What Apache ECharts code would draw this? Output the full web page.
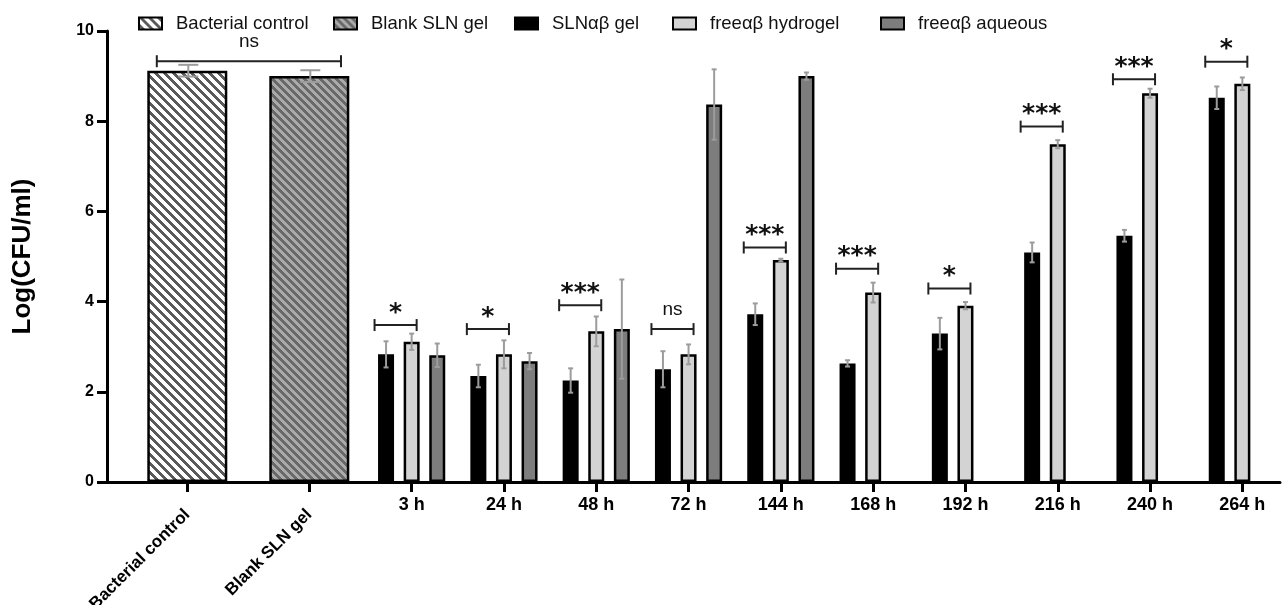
<!DOCTYPE html>
<html>
<head>
<meta charset="utf-8">
<script src="https://cdn.jsdelivr.net/npm/echarts@6/dist/echarts.min.js"></script>
<style>
html,body{margin:0;padding:0;background:#fff;}
#chart{width:1283px;height:605px;}
</style>
</head>
<body>
<div id="chart"></div>
<script>
// ---------------- data ----------------
const controlCategories = ['Bacterial control', 'Blank SLN gel'];
const controlMeans = [9.12, 9.00];
const controlErr = [0.13, 0.13];

const timeLabels = ['3 h', '24 h', '48 h', '72 h', '144 h', '168 h', '192 h', '216 h', '240 h', '264 h'];
const slnGel      = [2.83, 2.35, 2.25, 2.50, 3.72, 2.63, 3.29, 5.09, 5.46, 8.52];
const slnGelErr   = [0.29, 0.25, 0.27, 0.40, 0.24, 0.07, 0.35, 0.22, 0.13, 0.25];
const hydrogel    = [3.11, 2.83, 3.34, 2.83, 4.92, 4.20, 3.91, 7.49, 8.62, 8.83];
const hydrogelErr = [0.18, 0.31, 0.33, 0.22, 0.03, 0.22, 0.08, 0.09, 0.10, 0.14];
const aqueous     = [2.81, 2.68, 3.39, 8.37, 9.00, null, null, null, null, null];
const aqueousErr  = [0.26, 0.18, 1.10, 0.78, 0.08, null, null, null, null, null];

const yTicks = [0, 2, 4, 6, 8, 10];

// significance brackets (time groups): height of bracket and label
const sigHeights = [3.48, 3.39, 3.92, 3.39, 5.20, 4.73, 4.29, 7.88, 8.93, 9.32];
const sigLabels  = ['*', '*', '***', 'ns', '***', '***', '*', '***', '***', '*'];
const controlSigHeight = 9.33;
const controlSigLabel = 'ns';

const seriesNames = ['Bacterial control', 'Blank SLN gel', 'SLN\u03b1\u03b2 gel', 'free\u03b1\u03b2 hydrogel', 'free\u03b1\u03b2 aqueous'];

// ---------------- styling helpers ----------------
const FF = 'Liberation Sans, Arial, Helvetica, sans-serif';
const BAR_W = 16, BAR_GAP = 0.6;
const STEP = BAR_W * (1 + BAR_GAP);
const ERR_COLOR = '#9c9c9c';
const LEGEND_LEFT = [133, 328, 509, 667, 875];

function hatch(bg, fg, period, stripe) {
  const c = document.createElement('canvas');
  c.width = period; c.height = period;
  const ctx = c.getContext('2d');
  const img = ctx.createImageData(period, period);
  for (let y = 0; y < period; y++) {
    for (let x = 0; x < period; x++) {
      const d = (((x - y) % period) + period) % period;
      const col = d < stripe ? fg : bg;
      const i = (y * period + x) * 4;
      img.data[i] = col[0]; img.data[i + 1] = col[1]; img.data[i + 2] = col[2]; img.data[i + 3] = 255;
    }
  }
  ctx.putImageData(img, 0, 0);
  return c;
}
const patControl = { image: hatch([255, 255, 255], [90, 90, 90], 9, 4), repeat: 'repeat' };
const patBlank = { image: hatch([170, 170, 170], [105, 105, 105], 8, 4), repeat: 'repeat' };

function errRenderer(offset, cap) {
  return function (params, api) {
    const c = api.value(0), m = api.value(1), e = api.value(2);
    const x = api.coord([c, m])[0] + offset;
    const yt = api.coord([c, m + e])[1];
    const yb = api.coord([c, m - e])[1];
    const st = { stroke: ERR_COLOR, lineWidth: 2, fill: null };
    return {
      type: 'group',
      children: [
        { type: 'line', shape: { x1: x, y1: yt, x2: x, y2: yb }, style: st },
        { type: 'line', shape: { x1: x - cap / 2, y1: yt, x2: x + cap / 2, y2: yt }, style: st },
        { type: 'line', shape: { x1: x - cap / 2, y1: yb, x2: x + cap / 2, y2: yb }, style: st }
      ]
    };
  };
}

function bracketShape(x1, x2, y, label) {
  const st = { stroke: '#222', lineWidth: 2, fill: null };
  const isStar = label.indexOf('*') >= 0;
  return {
    type: 'group',
    children: [
      { type: 'line', shape: { x1: x1, y1: y, x2: x2, y2: y }, style: st },
      { type: 'line', shape: { x1: x1, y1: y - 6, x2: x1, y2: y + 6 }, style: st },
      { type: 'line', shape: { x1: x2, y1: y - 6, x2: x2, y2: y + 6 }, style: st },
      {
        type: 'text',
        style: {
          x: (x1 + x2) / 2,
          y: isStar ? y - 12 : y - 19,
          text: label,
          fill: '#111',
          font: isStar ? 'bold 25px DejaVu Sans, sans-serif' : '19px ' + FF,
          textAlign: 'center',
          textVerticalAlign: 'middle'
        }
      }
    ]
  };
}

function errData(means, errs) {
  const out = [];
  means.forEach((m, i) => { if (m != null) out.push([i, m, errs[i]]); });
  return out;
}

const axisLabelBase = { color: '#000', fontFamily: FF, fontWeight: 'bold', fontSize: 18 };

const option = {
  animation: false,
  backgroundColor: '#fff',
  legend: seriesNames.map((n, i) => ({
    data: [n],
    left: LEGEND_LEFT[i], top: 9,
    icon: 'rect',
    itemWidth: 23, itemHeight: 12,
    selectedMode: false,
    textStyle: { fontFamily: FF, fontSize: 18.5, color: '#111', padding: [0, 0, 0, 9] }
  })),
  grid: [
    { left: 126.3, width: 244, top: 31, bottom: 123, outerBoundsMode: 'none', containLabel: false },
    { left: 365.5, width: 923, top: 31, bottom: 123, outerBoundsMode: 'none', containLabel: false },
    { left: 107, right: 3, top: 31, bottom: 123, outerBoundsMode: 'none', containLabel: false }
  ],
  xAxis: [
    {
      type: 'category', gridIndex: 0, data: controlCategories,
      axisLine: { show: false },
      axisTick: { show: true, alignWithLabel: true, length: 10, lineStyle: { color: '#000', width: 3 } },
      axisLabel: Object.assign({}, axisLabelBase, { fontSize: 17, rotate: 45, interval: 0, margin: 30 })
    },
    {
      type: 'category', gridIndex: 1, data: timeLabels,
      axisLine: { show: false },
      axisTick: { show: true, alignWithLabel: true, length: 10, lineStyle: { color: '#000', width: 3 } },
      axisLabel: Object.assign({}, axisLabelBase, { interval: 0, margin: 14 })
    },
    {
      type: 'value', gridIndex: 2, min: 0, max: 1,
      axisLine: { show: true, lineStyle: { color: '#000', width: 3 } },
      axisTick: { show: false }, axisLabel: { show: false }, splitLine: { show: false }
    }
  ],
  yAxis: [
    {
      type: 'value', gridIndex: 0, min: yTicks[0], max: yTicks[yTicks.length - 1], interval: 2,
      offset: 19.3,
      name: 'Log(CFU/ml)', nameLocation: 'middle', nameGap: 71,
      nameTextStyle: { fontFamily: FF, fontWeight: 'bold', fontSize: 26, color: '#000' },
      axisLine: { show: true, lineStyle: { color: '#000', width: 3 } },
      axisTick: { show: true, length: 10, lineStyle: { color: '#000', width: 3 } },
      axisLabel: Object.assign({}, axisLabelBase, { fontSize: 16, margin: 13 }),
      splitLine: { show: false }
    },
    { type: 'value', gridIndex: 1, min: 0, max: 10, show: false },
    { type: 'value', gridIndex: 2, min: 0, max: 10, show: false }
  ],
  series: [
    {
      name: seriesNames[0], type: 'bar', xAxisIndex: 0, yAxisIndex: 0,
      data: [controlMeans[0], '-'], barWidth: 80, barGap: '-100%',
      itemStyle: { color: patControl, borderColor: '#000', borderWidth: 2.5 }
    },
    {
      name: seriesNames[1], type: 'bar', xAxisIndex: 0, yAxisIndex: 0,
      data: ['-', controlMeans[1]], barWidth: 80, barGap: '-100%',
      itemStyle: { color: patBlank, borderColor: '#000', borderWidth: 2.5 }
    },
    {
      name: seriesNames[2], type: 'bar', xAxisIndex: 1, yAxisIndex: 1,
      data: slnGel, barWidth: BAR_W, barGap: (BAR_GAP * 100) + '%',
      itemStyle: { color: '#000', borderColor: '#000', borderWidth: 2 }
    },
    {
      name: seriesNames[3], type: 'bar', xAxisIndex: 1, yAxisIndex: 1,
      data: hydrogel, barWidth: BAR_W, barGap: (BAR_GAP * 100) + '%',
      itemStyle: { color: '#d3d3d3', borderColor: '#000', borderWidth: 2.5 }
    },
    {
      name: seriesNames[4], type: 'bar', xAxisIndex: 1, yAxisIndex: 1,
      data: aqueous.map(v => v == null ? '-' : v), barWidth: BAR_W, barGap: (BAR_GAP * 100) + '%',
      itemStyle: { color: '#7d7d7d', borderColor: '#000', borderWidth: 2.5 }
    },
    // error bars
    {
      type: 'custom', xAxisIndex: 0, yAxisIndex: 0, silent: true, z: 5,
      data: errData(controlMeans, controlErr), renderItem: errRenderer(1, 20)
    },
    {
      type: 'custom', xAxisIndex: 1, yAxisIndex: 1, silent: true, z: 5,
      data: errData(slnGel, slnGelErr), renderItem: errRenderer(-STEP, 5)
    },
    {
      type: 'custom', xAxisIndex: 1, yAxisIndex: 1, silent: true, z: 5,
      data: errData(hydrogel, hydrogelErr), renderItem: errRenderer(0, 5)
    },
    {
      type: 'custom', xAxisIndex: 1, yAxisIndex: 1, silent: true, z: 5,
      data: errData(aqueous, aqueousErr), renderItem: errRenderer(STEP, 5)
    },
    // significance brackets
    {
      type: 'custom', xAxisIndex: 1, yAxisIndex: 1, silent: true, z: 6,
      data: sigHeights.map((h, i) => [i, h]),
      renderItem: function (params, api) {
        const p = api.coord([api.value(0), api.value(1)]);
        return bracketShape(p[0] - STEP - BAR_W / 2 - 3.5, p[0] + BAR_W / 2 - 3, p[1], sigLabels[params.dataIndex]);
      }
    },
    {
      type: 'custom', xAxisIndex: 0, yAxisIndex: 0, silent: true, z: 6,
      data: [[0, 1, controlSigHeight]],
      renderItem: function (params, api) {
        const bw = api.size([1, 0])[0];
        const a = api.coord([api.value(0), api.value(2)]);
        const b = api.coord([api.value(1), api.value(2)]);
        return bracketShape(a[0] - bw * 0.25, b[0] + bw * 0.26, a[1], controlSigLabel);
      }
    }
  ]
};

const chart = echarts.init(document.getElementById('chart'), null, { renderer: 'canvas' });
chart.setOption(option);
</script>
</body>
</html>
